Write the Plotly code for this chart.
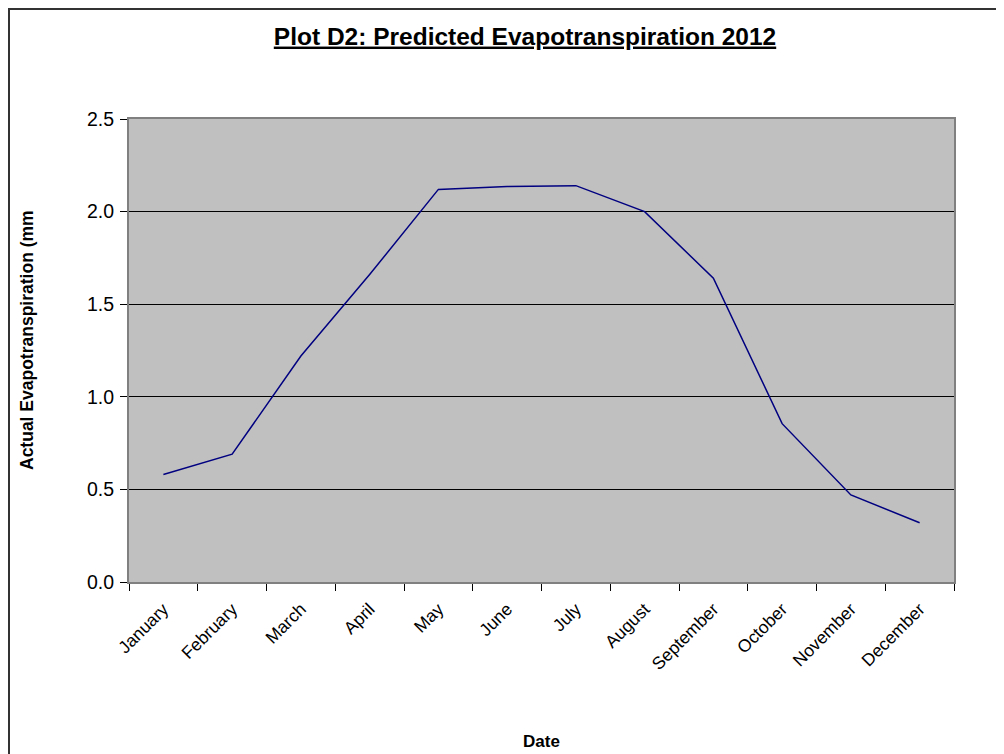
import plotly.graph_objects as go

months = ['January', 'February', 'March', 'April', 'May', 'June',
          'July', 'August', 'September', 'October', 'November', 'December']
evapo = [0.58, 0.69, 1.22, 1.66, 2.12, 2.135, 2.14, 2.0, 1.64, 0.855, 0.47, 0.32]

c_navy = '#000080'
c_plot_bg = '#c0c0c0'
c_frame = '#808080'
font_family = 'Liberation Sans, Arial, sans-serif'

# the page body has an 8px margin, so the figure itself starts at (8, 8)
off = 8
W, H = 1004 - off, 754 - off
L, T = 129 - off, 119 - off
R, B = 1004 - 954, H - (582 - off)
pw, ph = W - L - R, H - T - B


def px_x(x):
    # picture pixel -> paper coordinate
    return (x - off - L) / pw


def px_y(y):
    return (H - B - (y - off)) / ph


fig = go.Figure(go.Scatter(
    x=months,
    y=evapo,
    mode='lines',
    line=dict(color=c_navy, width=1.5),
    showlegend=False,
))

fig.update_layout(
    width=W, height=H,
    margin=dict(l=L, r=R, t=T, b=B, pad=0),
    paper_bgcolor='white',
    plot_bgcolor=c_plot_bg,
    font=dict(family=font_family, color='black', size=18),
    title=dict(text='<b><u>Plot D2: Predicted Evapotranspiration 2012</u></b>',
               x=px_x(525), xref='paper', xanchor='center',
               y=1 - (36 - off) / H, yanchor='middle',
               font=dict(size=24.5)),
    xaxis=dict(
        type='category',
        tickson='boundaries',
        ticks='outside', ticklen=7, tickcolor='black', tickwidth=1,
        tickangle=-45,
        tickfont=dict(size=17.5),
        ticklabelstandoff=8,
        showgrid=False,
        showline=True, linecolor=c_frame, linewidth=2, mirror=True,
        range=[-0.5, 11.5],
        automargin=False,
    ),
    yaxis=dict(
        range=[0, 2.5], dtick=0.5, tickformat='.1f',
        ticks='outside', ticklen=7, tickcolor='black', tickwidth=1,
        ticklabelstandoff=2,
        showgrid=True, gridcolor='black', gridwidth=1,
        showline=True, linecolor=c_frame, linewidth=2, mirror=True,
        zeroline=False,
        tickfont=dict(size=19.5),
        automargin=False,
    ),
    annotations=[
        dict(text='<b>Actual Evapotranspiration (mm</b>', textangle=-90,
             xref='paper', yref='paper', x=px_x(27), y=px_y(340),
             xanchor='center', yanchor='middle', showarrow=False,
             font=dict(size=17.5)),
        dict(text='<b>Date</b>', xref='paper', yref='paper',
             x=px_x(541), y=px_y(741), showarrow=False,
             xanchor='center', yanchor='middle', font=dict(size=17)),
    ],
    shapes=[
        dict(type='rect', xref='paper', yref='paper',
             x0=px_x(off + 1), x1=px_x(1100), y0=px_y(900), y1=px_y(off + 1),
             line=dict(color='#333333', width=2), fillcolor='rgba(0,0,0,0)',
             layer='below'),
    ],
)

fig.write_html('out.html')
